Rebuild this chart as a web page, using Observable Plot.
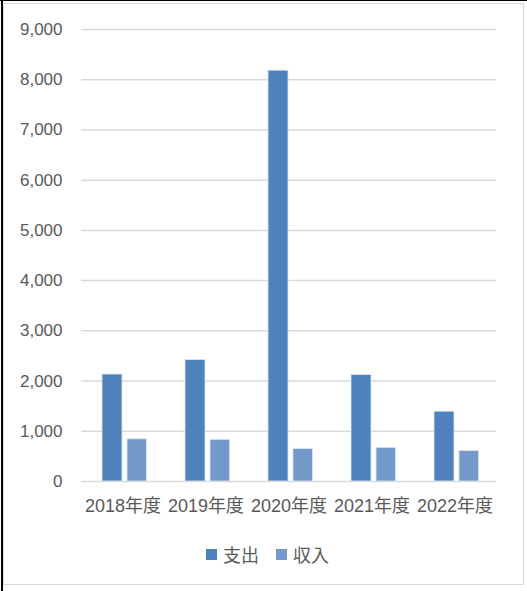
<!DOCTYPE html>
<html>
<head>
<meta charset="utf-8">
<script src="https://cdn.jsdelivr.net/npm/d3@7"></script>
<script src="https://cdn.jsdelivr.net/npm/@observablehq/plot@0.6"></script>
<style>
  html, body { margin: 0; padding: 0; background: #fff; }
  body { width: 527px; height: 591px; position: relative; overflow: hidden;
         font-family: "Liberation Sans", "Noto Sans CJK JP", sans-serif; }
  #topline { position: absolute; left: 0; top: 0; width: 527px; height: 1px; background: #000; }
  #leftline { position: absolute; left: 1px; top: 0; width: 2px; height: 591px; background: #000; }
  #frame { position: absolute; left: 3px; top: 3px; width: 519px; height: 580px; border: 1px solid #d9d9d9; box-sizing: content-box; }
  #chart { position: absolute; left: 0; top: 0; }
  #legend { position: absolute; left: 206px; top: 541px; display: flex; align-items: center;
            font-size: 18px; color: #595959; font-family: "Noto Sans CJK JP", sans-serif; }
  #legend .sw { width: 11px; height: 11px; display: inline-block; margin-right: 6px; }
  #legend .item { display: flex; align-items: center; margin-right: 17px; }
</style>
</head>
<body>
<div id="topline"></div>
<div id="leftline"></div>
<div id="frame"></div>
<div id="chart"></div>
<div id="legend"></div>
<script>
const years = ["2018年度", "2019年度", "2020年度", "2021年度", "2022年度"];
const expense = [2130, 2420, 8180, 2120, 1390];   // 支出
const income  = [840, 830, 645, 670, 605];        // 収入
const seriesNames = ["支出", "収入"];
const seriesColors = ["#4f81bd", "#7399cb"];
const yTicks = [0, 1000, 2000, 3000, 4000, 5000, 6000, 7000, 8000, 9000];

const expData = years.map((y, i) => ({year: y, value: expense[i]}));
const incData = years.map((y, i) => ({year: y, value: income[i]}));

const fmt = d3.format(",");
const chart = Plot.plot({
  width: 527,
  height: 530,
  marginLeft: 81,
  marginRight: 31,
  marginTop: 29,
  marginBottom: 49,
  style: {fontFamily: '"Liberation Sans", "Noto Sans CJK JP", sans-serif', fontSize: "17px", color: "#595959", background: "transparent", overflow: "visible"},
  x: {domain: years, padding: 0, axis: null, label: null},
  y: {domain: [0, 9000], axis: null, label: null},
  marks: [
    Plot.ruleY(yTicks, {y: d => d, stroke: "#d9d9d9", strokeWidth: 1.5}),
    Plot.barY(expData, {x: "year", y: "value", fill: seriesColors[0], stroke: "#dce6f2", strokeWidth: 0.8, insetLeft: 21, insetRight: 42}),
    Plot.barY(incData, {x: "year", y: "value", fill: seriesColors[1], stroke: "#dce6f2", strokeWidth: 0.8, insetLeft: 46, insetRight: 17.5}),
    Plot.axisY({ticks: yTicks, tickFormat: fmt, tickSize: 0, tickPadding: 19, fill: "#595959", fontSize: 17, label: null}),
    Plot.axisX({tickSize: 0, tickPadding: 18, fill: "#595959", fontSize: 18, label: null})
  ]
});
document.getElementById("chart").appendChild(chart);

const legend = document.getElementById("legend");
seriesNames.forEach((name, i) => {
  const item = document.createElement("span");
  item.className = "item";
  const sw = document.createElement("span");
  sw.className = "sw";
  sw.style.background = seriesColors[i];
  item.appendChild(sw);
  item.appendChild(document.createTextNode(name));
  legend.appendChild(item);
});
</script>
</body>
</html>
